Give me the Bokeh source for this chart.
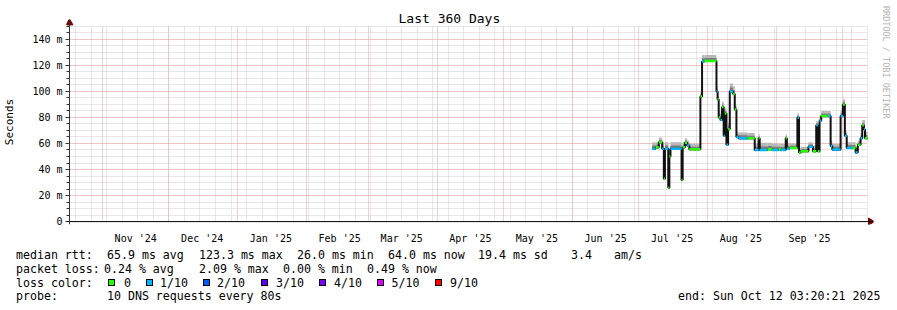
import pandas as pd
from bokeh.plotting import figure
from bokeh.models import Range1d, FixedTicker, Grid, Span, Title, Div, ColumnDataSource
from bokeh.layouts import column
from bokeh.embed import file_html
from bokeh.resources import INLINE

MONO = "DejaVu Sans Mono"

# ---------------- data ----------------
end_time = "2025-10-12 03:20:21"
span_days = 360
title_text = "Last 360 Days"
watermark = "RRDTOOL / TOBI OETIKER"

sample_times = [
    "2025-07-07 00:00", "2025-07-08 12:00", "2025-07-10 00:00", "2025-07-11 12:00",
    "2025-07-12 06:00", "2025-07-12 18:00", "2025-07-14 06:00", "2025-07-14 18:00",
    "2025-07-15 06:00", "2025-07-20 06:00", "2025-07-20 18:00", "2025-07-21 18:00",
    "2025-07-22 18:00", "2025-07-23 18:00", "2025-07-28 18:00", "2025-07-29 12:00",
    "2025-07-30 12:00", "2025-08-05 00:00", "2025-08-05 12:00", "2025-08-06 00:00",
    "2025-08-06 18:00", "2025-08-07 12:00", "2025-08-08 06:00", "2025-08-08 18:00",
    "2025-08-09 12:00", "2025-08-10 06:00", "2025-08-11 00:00", "2025-08-12 12:00",
    "2025-08-13 06:00", "2025-08-14 00:00", "2025-08-15 00:00", "2025-08-19 00:00",
    "2025-08-22 06:00", "2025-08-24 00:00", "2025-08-24 12:00", "2025-08-28 00:00",
    "2025-08-30 00:00", "2025-09-02 00:00", "2025-09-03 00:00", "2025-09-05 06:00",
    "2025-09-05 18:00", "2025-09-07 00:00", "2025-09-10 12:00", "2025-09-11 06:00",
    "2025-09-12 00:00", "2025-09-15 12:00", "2025-09-17 12:00", "2025-09-19 00:00",
    "2025-09-19 18:00", "2025-09-20 12:00", "2025-09-21 06:00", "2025-09-24 06:00",
    "2025-09-25 12:00", "2025-09-26 06:00", "2025-09-30 00:00", "2025-10-01 00:00",
    "2025-10-01 22:00", "2025-10-02 18:00", "2025-10-05 06:00", "2025-10-06 18:00",
    "2025-10-07 18:00", "2025-10-09 00:00", "2025-10-09 18:00", "2025-10-10 12:00",
    "2025-10-11 00:00",
]
median_ms = [
    56, 57, 61, 56, 33, 56, 26, 50,
    56, 32, 57, 60.5, 58.5, 55.5, 96, 123,
    123.3, 100, 94, 80, 78, 88, 66, 83,
    59, 71, 100, 98, 86, 65, 64, 64,
    55, 64, 55, 55.5, 55, 55.5, 55, 64,
    56, 56.5, 80, 53, 54, 57.5, 54, 74,
    54, 77.5, 81, 81, 58, 55.3, 81, 90,
    66, 56.5, 56.5, 53, 59, 64, 74, 71,
    64,
]
loss_level = [
    1, 0, 0, 1, 0, 1, 0, 0,
    1, 0, 0, 0, 1, 0, 0, 1,
    0, 1, 0, 0, 1, 0, 1, 0,
    1, 0, 1, 0, 0, 1, 1, 0,
    1, 0, 1, 0, 1, 0, 1, 0,
    1, 0, 1, 0, 0, 1, 0, 1,
    0, 1, 0, 1, 1, 1, 1, 0,
    1, 1, 0, 1, 0, 1, 0, 1,
    0,
]
smoke_top_ms = [
    61, 61, 64.5, 61, 38, 61, 31, 56,
    61, 37, 61, 64, 62, 59.5, 100, 128,
    128, 104, 98, 85, 83, 92, 70, 87,
    63, 76, 106, 104, 90, 69, 68.5, 68,
    60, 67, 60.5, 60.5, 60, 59.5, 59.5, 67,
    60, 60, 83, 56.5, 57.5, 61, 58.5, 77,
    57, 81, 85, 85, 62, 59.5, 85, 94,
    70, 61, 61, 57, 62, 68, 78, 78,
    69,
]

loss_labels = ["0", "1/10", "2/10", "3/10", "4/10", "5/10", "9/10"]
loss_colors = ["#26ff00", "#00b8ff", "#0059ff", "#5e00ff", "#7e00ff", "#dd00ff", "#ff0000"]

y_ticks = [0, 20, 40, 60, 80, 100, 120, 140]
y_tick_labels = ["0", "20 m", "40 m", "60 m", "80 m", "100 m", "120 m", "140 m"]
y_minor_step = 5
y_max = 150

month_label_dates = ["2024-11-16", "2024-12-16", "2025-01-16", "2025-02-16", "2025-03-16",
                     "2025-04-16", "2025-05-16", "2025-06-16", "2025-07-16", "2025-08-16",
                     "2025-09-16"]
month_labels = ["Nov '24", "Dec '24", "Jan '25", "Feb '25", "Mar '25", "Apr '25",
                "May '25", "Jun '25", "Jul '25", "Aug '25", "Sep '25"]

rtt_stats = [("65.9 ms avg", 107), ("123.3 ms max", 199), ("26.0 ms min", 297),
             ("64.0 ms now", 388), ("19.4 ms sd", 478), ("3.4", 571), ("am/s", 614)]
loss_stats = [("0.24 % avg", 104), ("2.09 % max", 199), ("0.00 % min", 283),
              ("0.49 % now", 367)]
probe_text = "10 DNS requests every 80s"
end_text = "end: Sun Oct 12 03:20:21 2025"
loss_box_x = [108, 145.5, 202.5, 261, 319, 377, 435]
loss_text_x = [124, 160, 217, 276, 334, 391.5, 450]


def ms(s):
    return int(pd.Timestamp(s).value // 10**6)


DAY = 86400000
x_end = ms(end_time)
x_start = x_end - span_days * DAY
PLOT_W, PLOT_H = 800, 202          # pixels for the 360 days / 0..150 ms
px_x = (x_end - x_start) / PLOT_W
px_y = y_max / PLOT_H

t = [ms(s) for s in sample_times]
t_next = t[1:] + [x_end]
src = ColumnDataSource(dict(
    left=t, right=t_next, median=median_ms, top=smoke_top_ms,
    low=[m - 0.8 for m in median_ms],
    inner=[m + 0.5 * (s - m) for m, s in zip(median_ms, smoke_top_ms)],
    color=[loss_colors[i] for i in loss_level],
))

W, H_MAIN, H_LEG = 897, 246, 64
p = figure(width=W, height=H_MAIN,
           x_range=Range1d(x_start - 3 * px_x, x_end + 6 * px_x),
           y_range=Range1d(-3 * px_y, y_max + 7 * px_y),
           output_backend="svg", toolbar_location=None,
           min_border_left=64, min_border_right=24, min_border_top=19, min_border_bottom=15)
p.outline_line_color = None
p.background_fill_color = "white"
p.border_fill_color = "white"
p.grid.visible = False

# grids
week_ticks = [ms(d) for d in pd.date_range("2024-10-20", end_time, freq="7D")]
month_ticks = [ms(d) for d in pd.date_range("2024-11-01", end_time, freq="MS")]
y_minor = list(range(y_minor_step, y_max + 1, y_minor_step))
for dim, ticks, col in [(0, week_ticks, "#cfcfcf"), (1, y_minor, "#cfcfcf"),
                        (0, month_ticks, "#f4a3a3"), (1, y_ticks[1:], "#f4a3a3")]:
    cb = (0, y_max) if dim == 0 else (x_start, x_end)
    p.add_layout(Grid(dimension=dim, ticker=FixedTicker(ticks=ticks), cross_bounds=cb,
                      grid_line_color=col, grid_line_dash="1 1", grid_line_width=1))

# axes
label_ticks = [ms(d) for d in month_label_dates]
p.xaxis.ticker = FixedTicker(ticks=label_ticks)
p.xaxis.major_label_overrides = dict(zip(label_ticks, month_labels))
p.xaxis.major_tick_line_color = None
p.xaxis.minor_tick_line_color = None
p.xaxis.axis_line_color = None
p.xaxis.major_label_standoff = 2
p.yaxis.ticker = FixedTicker(ticks=y_ticks, minor_ticks=[0] + y_minor)
p.yaxis.major_label_overrides = dict(zip(y_ticks, y_tick_labels))
p.yaxis.major_tick_out = 1
p.yaxis.major_tick_in = 3
p.yaxis.minor_tick_out = 0
p.yaxis.minor_tick_in = 3
p.yaxis.major_tick_line_color = "#333333"
p.yaxis.minor_tick_line_color = "#333333"
p.yaxis.major_label_standoff = 3
p.yaxis.axis_line_color = None
p.yaxis.axis_label = "Seconds"
p.yaxis.axis_label_standoff = 13
p.yaxis.axis_label_text_font = MONO
p.yaxis.axis_label_text_font_size = "11px"
p.yaxis.axis_label_text_font_style = "normal"
p.yaxis.axis_label_text_color = "#000000"
for ax in (p.xaxis, p.yaxis):
    ax.major_label_text_font = MONO
    ax.major_label_text_font_size = "10px"
    ax.major_label_text_color = "#000000"

# smoke + median
p.quad(left="left", right="right", bottom="low", top="top", source=src,
       fill_color="#b8b8b8", line_color=None)
p.quad(left="left", right="right", bottom="low", top="inner", source=src,
       fill_color="#7c7c7c", line_color=None)
p.step(x=t + [x_end], y=median_ms + [median_ms[-1]], mode="after",
       line_color="#111111", line_width=2)
p.segment(x0="left", x1="right", y0="median", y1="median", source=src,
          line_color="color", line_width=2.5)

# axis lines with arrow heads
p.add_layout(Span(location=0, dimension="width", line_color="#000000", line_width=1))
p.add_layout(Span(location=x_start, dimension="height", line_color="#333333", line_width=1))
p.scatter(x=[x_end + 3 * px_x], y=[0], marker="triangle", size=7, angle=-1.5708,
          fill_color="#7a0000", line_color="#7a0000")
p.scatter(x=[x_start], y=[y_max + 3.5 * px_y], marker="triangle", size=7,
          fill_color="#7a0000", line_color="#7a0000")

# title and watermark
p.title = Title(text=title_text, align="left", offset=332, standoff=-13,
                text_font=MONO, text_font_size="13px", text_font_style="normal",
                text_color="#000000")
p.add_layout(Title(text=watermark, align="right", offset=106, standoff=12,
                   vertical_align="middle", text_font=MONO, text_font_size="8.5px",
                   text_font_style="normal", text_color="#b4b4b4"), "right")

# ---------------- legend area ----------------
rows_y = [9, 23, 36.5, 50]
items = [("median rtt:", 16, rows_y[0])]
items += [(s, x, rows_y[0]) for s, x in rtt_stats]
items += [("packet loss:", 16, rows_y[1])]
items += [(s, x, rows_y[1]) for s, x in loss_stats]
items += [("loss color:", 16, rows_y[2])]
items += [(s, x, rows_y[2]) for s, x in zip(loss_labels, loss_text_x)]
items += [("probe:", 16, rows_y[3]), (probe_text, 107, rows_y[3]), (end_text, 678, rows_y[3])]

parts = []
for s, x, y in items:
    parts.append(f'<span style="position:absolute;left:{x}px;top:{y - 7}px;line-height:14px;'
                 f'white-space:pre;">{s}</span>')
for x, c in zip(loss_box_x, loss_colors):
    parts.append(f'<span style="position:absolute;box-sizing:border-box;left:{x}px;'
                 f'top:{rows_y[2] - 4}px;width:7px;height:7px;background:{c};'
                 f'border:1px solid #000;"></span>')
html = (f'<div style="position:relative;width:{W}px;height:{H_LEG}px;'
        f"font-family:'{MONO}',monospace;font-size:11.6px;color:#000;\">"
        + "".join(parts) + "</div>")
legend_div = Div(text=html, width=W, height=H_LEG, margin=0)

layout = column(p, legend_div, spacing=0)
open("out.html", "w").write(file_html(layout, INLINE))
